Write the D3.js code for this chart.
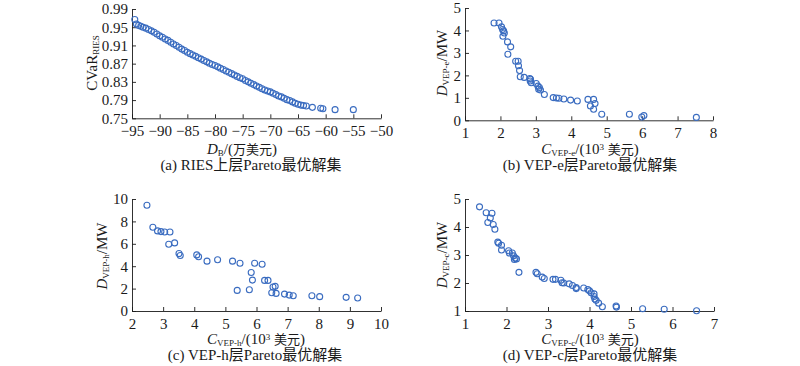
<!DOCTYPE html>
<html>
<head>
<meta charset="utf-8">
<script src="https://cdn.jsdelivr.net/npm/d3@7"></script>
<style>
  body { margin: 0; background: #fff; }
  svg { display: block; font-family: "Liberation Serif", "Noto Sans CJK SC", serif; }
</style>
</head>
<body>
<svg id="chart" width="800" height="366"></svg>
<script>
// (a) RIES upper level
const aX = [-94.5, -94.2, -93.8, -93.4, -93.0, -92.5, -92.0, -91.5, -91.0, -90.5, -90.0,
  -89.5, -89.0, -88.5, -88.0, -87.5, -87.0, -86.5, -86.0, -85.5, -85.0,
  -84.5, -84.0, -83.5, -83.0, -82.5, -82.0, -81.5, -81.0, -80.5, -80.0,
  -79.5, -79.0, -78.5, -78.0, -77.5, -77.0, -76.5, -76.0, -75.5, -75.0,
  -74.5, -74.0, -73.5, -73.0, -72.5, -72.0, -71.5, -71.0, -70.5, -70.0,
  -69.5, -69.0, -68.5, -68.0, -67.5, -67.0, -66.5, -66.0, -65.5, -65.0,
  -64.5, -64.0, -63.5, -62.4, -60.9, -60.5, -58.3, -55.0];
const aY = [0.967, 0.957, 0.954, 0.952, 0.950, 0.948, 0.945, 0.942, 0.939, 0.935, 0.931,
  0.928, 0.924, 0.921, 0.917, 0.913, 0.910, 0.906, 0.902, 0.899, 0.895,
  0.892, 0.889, 0.886, 0.883, 0.880, 0.877, 0.874, 0.871, 0.868, 0.866,
  0.863, 0.860, 0.857, 0.854, 0.851, 0.848, 0.845, 0.842, 0.839, 0.837,
  0.833, 0.830, 0.827, 0.824, 0.821, 0.818, 0.815, 0.812, 0.810, 0.808,
  0.805, 0.802, 0.799, 0.797, 0.794, 0.791, 0.789, 0.786, 0.783, 0.781,
  0.779, 0.778, 0.777, 0.774, 0.772, 0.771, 0.769, 0.769];

// (b) VEP-e
const bX = [1.82, 1.96, 2.03, 2.06, 2.09, 2.11, 2.07, 2.20, 2.29, 2.21, 2.43, 2.50, 2.51, 2.54,
  2.56, 2.67, 2.83, 2.85, 2.84, 2.87, 3.01, 3.06, 3.10, 3.08, 3.13, 3.24, 3.49, 3.58, 3.65,
  3.79, 3.98, 4.17, 4.47, 4.63, 4.67, 4.54, 4.63, 4.86, 5.64, 5.99, 6.05, 7.53];
const bY = [4.33, 4.33, 4.16, 4.04, 3.98, 3.89, 3.74, 3.49, 3.27, 2.94, 2.63, 2.63, 2.43, 2.22,
  1.94, 1.91, 1.86, 1.83, 1.75, 1.67, 1.64, 1.52, 1.46, 1.38, 1.35, 1.15, 1.01, 0.99, 0.98,
  0.95, 0.90, 0.86, 0.93, 0.93, 0.75, 0.64, 0.49, 0.27, 0.27, 0.15, 0.21, 0.13];

// (c) VEP-h
const cX = [2.48, 2.67, 2.82, 2.93, 3.05, 3.22, 3.18, 3.37, 3.51, 3.55, 4.08, 4.14, 4.41, 4.75,
  5.23, 5.47, 5.94, 6.18, 5.83, 5.87, 5.38, 5.77, 6.26, 6.37, 6.53, 6.60, 6.49, 6.63, 6.90,
  7.05, 7.18, 7.78, 8.03, 8.88, 9.25];
const cY = [9.44, 7.48, 7.15, 7.09, 7.06, 7.06, 5.96, 6.08, 5.13, 4.96, 5.01, 4.84, 4.45, 4.57,
  4.45, 4.27, 4.27, 4.18, 3.44, 2.76, 1.84, 1.90, 2.73, 2.73, 2.14, 2.20, 1.63, 1.57, 1.51,
  1.42, 1.36, 1.36, 1.28, 1.22, 1.16];

// (d) VEP-c
const dX = [1.35, 1.51, 1.65, 1.61, 1.55, 1.68, 1.72, 1.79, 1.81, 1.88, 1.88, 2.05, 2.07, 2.14,
  2.17, 2.21, 2.24, 2.19, 2.30, 2.71, 2.74, 2.86, 2.91, 3.12, 3.18, 3.31, 3.34, 3.38, 3.51,
  3.59, 3.68, 3.68, 3.86, 3.96, 4.00, 4.04, 4.11, 4.11, 4.13, 4.16, 4.22, 4.31, 4.64, 4.65,
  5.28, 5.80, 6.58];
const dY = [4.72, 4.51, 4.49, 4.32, 4.16, 4.09, 3.92, 3.46, 3.42, 3.35, 3.18, 3.15, 3.07, 3.07,
  2.97, 2.89, 2.86, 2.84, 2.38, 2.38, 2.33, 2.21, 2.16, 2.13, 2.13, 2.10, 2.01, 2.00, 1.97,
  1.91, 1.84, 1.80, 1.82, 1.77, 1.72, 1.65, 1.61, 1.52, 1.43, 1.38, 1.28, 1.15, 1.18, 1.14,
  1.08, 1.06, 1.01];

const ticksA_x = [-95, -90, -85, -80, -75, -70, -65, -60, -55, -50];
const ticksA_y = [0.75, 0.79, 0.83, 0.87, 0.91, 0.95, 0.99];
const ticksB_x = [1, 2, 3, 4, 5, 6, 7, 8];
const ticksB_y = [0, 1, 2, 3, 4, 5];
const ticksC_x = [2, 3, 4, 5, 6, 7, 8, 9, 10];
const ticksC_y = [0, 2, 4, 6, 8, 10];
const ticksD_x = [1, 2, 3, 4, 5, 6, 7];
const ticksD_y = [1, 2, 3, 4, 5];

const svg = d3.select('#chart');
const ink = '#1a1a1a';
const dotColor = '#3a6cc0';

// label parts: [text, kind] kind = '' | 'i' | 'sub' | 'sup' | 'cjk'
function richText(g, parts, size) {
  const t = g.append('text').attr('font-size', size).attr('fill', ink).attr('text-anchor', 'middle');
  parts.forEach(([s, kind]) => {
    const sp = t.append('tspan').text(s);
    if (kind === 'i') sp.attr('font-style', 'italic');
    if (kind === 'sub') sp.attr('font-size', size * 0.6).attr('baseline-shift', '-22%');
    if (kind === 'sup') sp.attr('font-size', size * 0.6).attr('baseline-shift', '45%');
    if (kind === 'cjk') sp.attr('font-size', size * 0.87);
  });
  return t;
}

function panel(p) {
  const x = d3.scaleLinear().domain(p.xDomain).range([p.left, p.right]);
  const y = d3.scaleLinear().domain(p.yDomain).range([p.bottom, p.top]);
  const g = svg.append('g');

  const xAxis = g.append('g').attr('transform', `translate(0,${p.bottom})`)
    .call(d3.axisBottom(x).tickValues(p.xTicks).tickFormat(p.xFmt)
      .tickSizeInner(-4).tickSizeOuter(0).tickPadding(7.5));
  const yAxis = g.append('g').attr('transform', `translate(${p.left},0)`)
    .call(d3.axisLeft(y).tickValues(p.yTicks).tickFormat(p.yFmt)
      .tickSizeInner(-4).tickSizeOuter(0).tickPadding(4));
  [xAxis, yAxis].forEach(a => {
    a.attr('font-family', null).attr('font-size', 15);
    a.selectAll('path, line').attr('stroke', ink).attr('stroke-width', 0.9);
    a.selectAll('text').attr('fill', ink);
  });

  g.append('g').selectAll('circle')
    .data(p.xs.map((v, i) => [v, p.ys[i]]))
    .enter()
    .append('circle')
    .attr('cx', d => x(d[0]))
    .attr('cy', d => y(d[1]))
    .attr('r', 3)
    .attr('fill', 'none')
    .attr('stroke', dotColor)
    .attr('stroke-width', 1.1);

  richText(g, p.xLabel, 15).attr('x', p.xLabelPos[0]).attr('y', p.xLabelPos[1]);
  richText(g, p.yLabel, 15)
    .attr('transform', `translate(${p.yLabelPos[0]},${p.yLabelPos[1]}) rotate(-90)`);
  g.append('text').attr('x', p.capPos[0]).attr('y', p.capPos[1])
    .attr('text-anchor', 'middle').attr('font-size', 15).attr('fill', ink)
    .text(p.caption);
}

const fmtInt = d3.format('d');
const costLabel = sub => [['C', 'i'], [sub, 'sub'], ['/(10', ''], ['3', 'sup'], [' ', ''], ['美元', 'cjk'], [')', '']];
const powerLabel = sub => [['D', 'i'], [sub, 'sub'], ['/MW', '']];

panel({
  left: 132, right: 381, top: 9, bottom: 118.3,
  xDomain: [-95, -50], yDomain: [0.75, 0.99],
  xTicks: ticksA_x, yTicks: ticksA_y, xFmt: d3.format('d'), yFmt: d3.format('.2f'),
  xs: aX, ys: aY,
  xLabel: [['D', 'i'], ['B', 'sub'], ['/(', ''], ['万美元', 'cjk'], [')', '']], xLabelPos: [242, 153.5],
  yLabel: [['CVaR', ''], ['RIES', 'sub']], yLabelPos: [97, 63],
  caption: '(a) RIES上层Pareto最优解集', capPos: [251, 169.5]
});

panel({
  left: 465, right: 713, top: 8, bottom: 120.3,
  xDomain: [1, 8], yDomain: [0, 5],
  xTicks: ticksB_x, yTicks: ticksB_y, xFmt: fmtInt, yFmt: fmtInt,
  xs: bX, ys: bY,
  xLabel: costLabel('VEP-e'), xLabelPos: [590, 153.5],
  yLabel: powerLabel('VEP-e'), yLabelPos: [447, 63],
  caption: '(b) VEP-e层Pareto最优解集', capPos: [590, 169.5]
});

panel({
  left: 132, right: 381, top: 199, bottom: 311,
  xDomain: [2, 10], yDomain: [0, 10],
  xTicks: ticksC_x, yTicks: ticksC_y, xFmt: fmtInt, yFmt: fmtInt,
  xs: cX, ys: cY,
  xLabel: costLabel('VEP-h'), xLabelPos: [256, 344],
  yLabel: powerLabel('VEP-h'), yLabelPos: [107, 256],
  caption: '(c) VEP-h层Pareto最优解集', capPos: [255, 360]
});

panel({
  left: 465, right: 714, top: 199, bottom: 311,
  xDomain: [1, 7], yDomain: [1, 5],
  xTicks: ticksD_x, yTicks: ticksD_y, xFmt: fmtInt, yFmt: fmtInt,
  xs: dX, ys: dY,
  xLabel: costLabel('VEP-c'), xLabelPos: [590, 344],
  yLabel: powerLabel('VEP-c'), yLabelPos: [447, 255],
  caption: '(d) VEP-c层Pareto最优解集', capPos: [590, 360]
});
</script>
</body>
</html>
